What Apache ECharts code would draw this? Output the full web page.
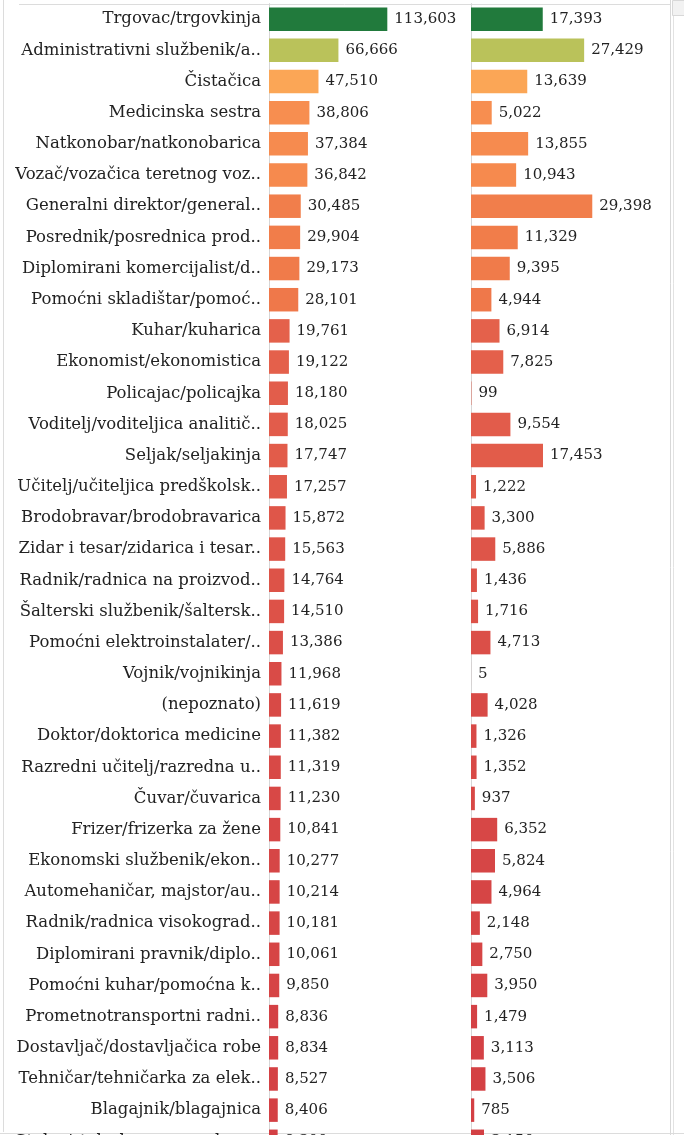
<!DOCTYPE html>
<html>
<head>
<meta charset="utf-8">
<script src="https://cdn.jsdelivr.net/npm/echarts@6/dist/echarts.min.js"></script>
<style>
  html, body { margin: 0; padding: 0; background: #fff; overflow: hidden; }
  #chart { width: 684px; height: 1165px; }
</style>
</head>
<body>
<div id="chart"></div>
<script>
// occupations, sorted by the first measure
var categories = [
  'Trgovac/trgovkinja',
  'Administrativni službenik/a..',
  'Čistačica',
  'Medicinska sestra',
  'Natkonobar/natkonobarica',
  'Vozač/vozačica teretnog voz..',
  'Generalni direktor/general..',
  'Posrednik/posrednica prod..',
  'Diplomirani komercijalist/d..',
  'Pomoćni skladištar/pomoć..',
  'Kuhar/kuharica',
  'Ekonomist/ekonomistica',
  'Policajac/policajka',
  'Voditelj/voditeljica analitič..',
  'Seljak/seljakinja',
  'Učitelj/učiteljica predškolsk..',
  'Brodobravar/brodobravarica',
  'Zidar i tesar/zidarica i tesar..',
  'Radnik/radnica na proizvod..',
  'Šalterski službenik/šaltersk..',
  'Pomoćni elektroinstalater/..',
  'Vojnik/vojnikinja',
  '(nepoznato)',
  'Doktor/doktorica medicine',
  'Razredni učitelj/razredna u..',
  'Čuvar/čuvarica',
  'Frizer/frizerka za žene',
  'Ekonomski službenik/ekon..',
  'Automehaničar, majstor/au..',
  'Radnik/radnica visokograd..',
  'Diplomirani pravnik/diplo..',
  'Pomoćni kuhar/pomoćna k..',
  'Prometnotransportni radni..',
  'Dostavljač/dostavljačica robe',
  'Tehničar/tehničarka za elek..',
  'Blagajnik/blagajnica',
  'Stolar/stolarka za scensku o..'
]

var leftValues = [
  113603, 66666, 47510, 38806, 37384, 36842, 30485, 29904, 29173, 28101,
  19761, 19122, 18180, 18025, 17747, 17257, 15872, 15563, 14764, 14510,
  13386, 11968, 11619, 11382, 11319, 11230, 10841, 10277, 10214, 10181,
  10061, 9850, 8836, 8834, 8527, 8406, 8300
]

var rightValues = [
  17393, 27429, 13639, 5022, 13855, 10943, 29398, 11329, 9395, 4944,
  6914, 7825, 99, 9554, 17453, 1222, 3300, 5886, 1436, 1716,
  4713, 5, 4028, 1326, 1352, 937, 6352, 5824, 4964, 2148,
  2750, 3950, 1479, 3113, 3506, 785, 3150
]

// colour ramp (red -> orange -> yellow-green -> green), driven by the left measure
var colorStops = [
  '#d33f44', '#e35e4b', '#f07b4a', '#f89050', '#fcae58',
  '#cfc85c', '#a9bd58', '#7fa84f', '#559346', '#357f40', '#217a3c'
]

var fontFamily = '"DejaVu Serif", Georgia, serif'

function fmt (p) {
  return p.value[0].toLocaleString('en-US')
}

var leftData = leftValues.map(function (v, i) { return [v, categories[i], leftValues[i]] })
var rightData = rightValues.map(function (v, i) { return [v, categories[i], leftValues[i]] })

var chart = echarts.init(document.getElementById('chart'))

var rowTop = 3.6
var rowPitch = 31.17

var option = {
  backgroundColor: '#fff',
  animation: false,
  visualMap: {
    show: false,
    type: 'continuous',
    seriesIndex: [0, 1],
    dimension: 2,
    min: 8000,
    max: 113603,
    inRange: { color: colorStops }
  },
  grid: [
    { left: 269, width: 201, top: rowTop, height: rowPitch * categories.length, containLabel: false },
    { left: 471, width: 198, top: rowTop, height: rowPitch * categories.length, containLabel: false }
  ],
  xAxis: [
    { gridIndex: 0, type: 'value', min: 0, max: 193000, show: false },
    { gridIndex: 1, type: 'value', min: 0, max: 48000, show: false }
  ],
  yAxis: [
    {
      gridIndex: 0,
      type: 'category',
      data: categories,
      inverse: true,
      axisTick: { show: false },
      axisLine: { show: true, lineStyle: { color: '#d6d6d6', width: 1 } },
      splitLine: { show: false },
      axisLabel: {
        margin: 8,
        color: '#222',
        fontFamily: fontFamily,
        fontSize: 16.5
      }
    },
    {
      gridIndex: 1,
      type: 'category',
      data: categories,
      inverse: true,
      axisTick: { show: false },
      axisLabel: { show: false },
      axisLine: { show: true, lineStyle: { color: '#d6d6d6', width: 1 } },
      splitLine: { show: false }
    }
  ],
  series: [
    {
      type: 'bar',
      xAxisIndex: 0,
      yAxisIndex: 0,
      barWidth: 23.5,
      data: leftData,
      encode: { x: 0, y: 1 },
      label: {
        show: true,
        position: 'right',
        distance: 7,
        color: '#222',
        fontFamily: fontFamily,
        fontSize: 15,
        formatter: fmt
      }
    },
    {
      type: 'bar',
      xAxisIndex: 1,
      yAxisIndex: 1,
      barWidth: 23.5,
      data: rightData,
      encode: { x: 0, y: 1 },
      label: {
        show: true,
        position: 'right',
        distance: 7,
        color: '#222',
        fontFamily: fontFamily,
        fontSize: 15,
        formatter: fmt
      }
    }
  ],
  // pane frame and scrollbar edges of the dashboard view
  graphic: [
    { type: 'line', shape: { x1: 19, y1: 4.5, x2: 670, y2: 4.5 }, style: { stroke: '#dcdcdc', lineWidth: 1 } },
    { type: 'line', shape: { x1: 3.5, y1: 0, x2: 3.5, y2: 1132 }, style: { stroke: '#dcdcdc', lineWidth: 1 } },
    { type: 'line', shape: { x1: 670.5, y1: 0, x2: 670.5, y2: 1135 }, style: { stroke: '#d8d8d8', lineWidth: 1 } },
    { type: 'line', shape: { x1: 673.5, y1: 0, x2: 673.5, y2: 1135 }, style: { stroke: '#e2e2e2', lineWidth: 1 } },
    { type: 'rect', shape: { x: 672.5, y: 0.5, width: 12, height: 15 }, style: { fill: '#f2f2f2', stroke: '#d8d8d8', lineWidth: 1 } },
    { type: 'line', shape: { x1: 0, y1: 1133.5, x2: 684, y2: 1133.5 }, style: { stroke: '#dcdcdc', lineWidth: 1 } }
  ]
}

chart.setOption(option)
</script>
</body>
</html>
